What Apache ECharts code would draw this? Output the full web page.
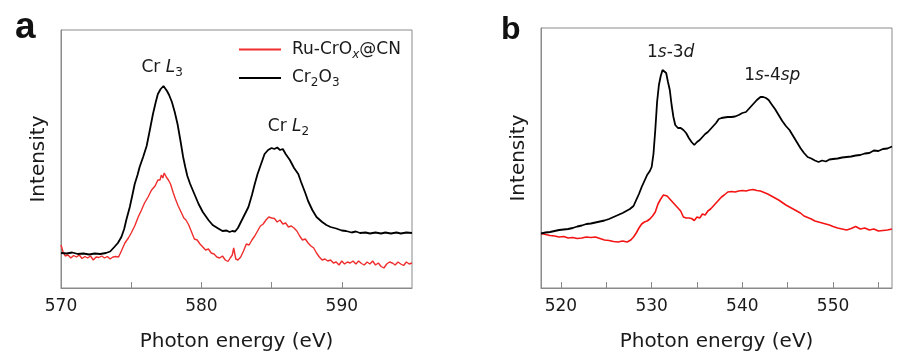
<!DOCTYPE html>
<html>
<head>
<meta charset="utf-8">
<script src="https://cdn.jsdelivr.net/npm/echarts@6/dist/echarts.min.js"></script>
<style>
html,body{margin:0;padding:0;background:#fff;}
#chart{width:912px;height:363px;}
</style>
</head>
<body>
<div id="chart"></div>
<script>
// ---------- Panel a : Cr L-edge ----------
const aEnergyBlack = [570.0,570.4,570.8,571.2,571.6,572.0,572.4,572.8,573.2,573.5,573.8,574.05,574.3,574.5,574.65,574.9,575.1,575.25,575.45,575.6,575.85,576.1,576.3,576.55,576.75,576.9,577.1,577.3,577.4,577.55,577.7,577.9,578.1,578.3,578.5,578.7,578.85,579.0,579.2,579.5,579.8,580.1,580.5,580.8,581.2,581.5,581.8,582.0,582.2,582.4,582.6,582.85,583.1,583.35,583.6,583.8,584.0,584.2,584.5,584.75,585.0,585.2,585.4,585.6,585.8,586.0,586.3,586.6,586.9,587.1,587.4,587.6,587.9,588.2,588.6,588.9,589.2,589.6,590.0,590.3,590.7,591.0,591.3,591.7,592.0,592.4,592.8,593.1,593.5,593.9,594.2,594.6,595.0];
const aBlack = [35,34.5,35.5,34,34.5,33.5,34.5,34,35,36.5,41,45,51,59,68,81,94,104,113,121,131,142,156,174,186,194,199,202,200,197,193,186,176,164,148,131,121,112,104,94,84,76,68,63,59.5,57,57.5,56,57,56.5,60,67,74,81,93,104,114,122,134,138,140,139,140.5,138,139,134,128,120,114,106,95,87,78,71,66,63,61,59.5,57.5,57,55.5,56.5,55,55.5,54.5,55.5,54.5,55.5,54.5,55.5,54.5,55.5,55];
const aEnergyRed = [570.0,570.15,570.3,570.5,570.7,570.9,571.1,571.3,571.5,571.7,571.9,572.1,572.3,572.5,572.7,572.9,573.1,573.3,573.5,573.7,573.9,574.1,574.3,574.55,574.8,575.0,575.25,575.5,575.7,575.95,576.2,576.45,576.7,576.9,577.05,577.15,577.25,577.35,577.5,577.65,577.8,578.0,578.15,578.35,578.55,578.75,578.9,579.1,579.3,579.5,579.7,579.9,580.1,580.3,580.5,580.7,580.9,581.1,581.3,581.5,581.7,581.9,582.05,582.2,582.3,582.45,582.6,582.8,583.0,583.2,583.4,583.6,583.8,584.0,584.2,584.4,584.6,584.8,585.0,585.2,585.4,585.6,585.8,586.0,586.2,586.4,586.6,586.8,587.0,587.2,587.4,587.6,587.8,588.0,588.2,588.4,588.6,588.8,589.0,589.2,589.4,589.6,589.8,590.0,590.2,590.4,590.6,590.8,591.0,591.2,591.4,591.6,591.8,592.0,592.2,592.4,592.6,592.8,593.0,593.2,593.4,593.6,593.8,594.0,594.2,594.4,594.6,594.8,595.0];
const aRed = [43,36,32,33,30,32.5,31,33,29.5,31.5,30,32,28,31,30.5,32,30,31.5,29,31,31.5,31,37,45,50,55,62,71,77,85,91,98,102,108,108,113,110,115,111,108,104,95,89,82,76,70,68,63,56,49,48,44,41,38,39,35,34,31,30,32,28,26.5,30,33,40,29,28,31,37,44,43,48,52,57,62,64,68,71,70,69.5,66,68,64,65,61,62,60,57,52,48,49,45,42,40,35,31,28,29,27,28,25,26,23,27,24,26,25,27,24,27,24.5,23,26,24,27,23,25,21.5,20,24,26,25,23,26,24,22.5,26,24,25];
const aTicks = [570,575,580,585,590];
const aTickLabels = [570,580,590];

// ---------- Panel b : O K-edge ----------
const bEnergyBlack = [517.8,518.3,518.8,519.3,519.8,520.3,520.8,521.3,521.8,522.3,522.8,523.3,523.8,524.3,524.8,525.3,525.8,526.3,526.8,527.2,527.6,528.0,528.3,528.6,528.9,529.2,529.5,529.8,530.0,530.2,530.4,530.6,530.8,531.0,531.2,531.4,531.6,531.8,532.0,532.2,532.4,532.6,532.9,533.2,533.5,533.8,534.1,534.4,534.7,535.0,535.3,535.6,535.9,536.2,536.5,536.8,537.1,537.4,537.7,538.0,538.4,538.8,539.2,539.6,540.0,540.4,540.8,541.2,541.6,542.0,542.3,542.6,542.9,543.2,543.6,544.0,544.4,544.8,545.2,545.6,546.0,546.4,546.8,547.2,547.6,548.0,548.4,548.8,549.2,549.6,550.0,550.5,551.0,551.5,552.0,552.5,553.0,553.5,554.0,554.5,555.0,555.5,556.0,556.5];
const bBlack = [54.5,55.5,56,57,58,58.5,59,60,61.5,62.5,64,64.5,65.5,66.5,67.5,69,71,73,75,77,79,82,88,94,101,107,113,117,121,134,158,186,203,212,218,220,215,206,198,183,171,163,160,160,158,155,150,146,143,146,148,151,154,156,159,162,165,169,170,170.5,171,171,171.5,173,175,176,180,184,188,191,191,190,188,184,179,173,167,162,158,152,146,140,135,131,129.5,127.5,126,127.5,126.5,128.5,129,129.5,130.5,131,131.5,132.5,133,134.5,135,137.5,137,139,139.5,141.5];
const bEnergyRed = [517.8,518.3,518.8,519.3,519.8,520.3,520.8,521.3,521.8,522.3,522.8,523.3,523.8,524.3,524.8,525.3,525.8,526.3,526.8,527.3,527.7,528.0,528.3,528.6,528.9,529.2,529.5,529.8,530.1,530.4,530.7,531.0,531.3,531.5,531.7,532.0,532.3,532.6,532.9,533.2,533.5,533.8,534.1,534.4,534.7,535.0,535.3,535.6,535.9,536.2,536.5,536.8,537.1,537.4,537.7,538.0,538.4,538.8,539.2,539.6,540.0,540.4,540.8,541.2,541.6,542.0,542.4,542.8,543.2,543.6,544.0,544.4,544.8,545.2,545.6,546.0,546.4,546.8,547.2,547.6,548.0,548.4,548.8,549.2,549.6,550.0,550.5,551.0,551.5,552.0,552.5,553.0,553.5,554.0,554.5,555.0,555.5,556.0,556.5];
const bRed = [54.5,53.5,52.5,52,51,51.5,50,50.5,49.5,50,51,50.5,51,49.5,48,47.5,46.5,46,47,46,48,51,55,60,64,66,67,69,72,76,84,89,93,94,92,89,86,83,80,77,71,70,70,69.5,67.5,71,70,74,73,77,79,82,85,88,91,93,96,96.5,96,97,97.5,97,98,98.5,97.5,97,95.5,94,92,90,88,85.5,83,81,79,77,75,72,70.5,69,67,66,65,64,63,61.5,60,59,58,59.5,61.5,59,60,58,59,57,57.5,58,59];
const bTicks = [520,525,530,535,540,545,550,555];
const bTickLabels = [520,530,540,550];

// ---------- labels ----------
const seriesNames = ['Ru-CrOx@CN', 'Cr2O3'];
const seriesLegendRich = ['{n|Ru-CrO}{si|x}{n|@CN}', '{n|Cr}{s|2}{n|O}{s|3}'];
const aPeakLabels = [['{n|Cr }{i|L}{s|3}', 577.2, 220], ['{n|Cr }{i|L}{s|2}', 586.2, 161]];
const bPeakLabels = [['{n|1}{i|s}{n|-3}{i|d}', 532.1, 235], ['{n|1}{i|s}{n|-4}{i|sp}', 543.3, 212]];

const FONT = 'DejaVu Sans';
const TXT = '#1a1a1a';
const FRAME = '#8a8a8a';

const rich = {
  n: {fontFamily: FONT, fontSize: 17, color: TXT, lineHeight: 22},
  i: {fontFamily: FONT, fontSize: 17, color: TXT, lineHeight: 22, fontStyle: 'italic'},
  s: {fontFamily: FONT, fontSize: 12, color: TXT, lineHeight: 10, verticalAlign: 'bottom'},
  si: {fontFamily: FONT, fontSize: 12, color: TXT, lineHeight: 10, verticalAlign: 'bottom', fontStyle: 'italic'}
};

function pairs(xs, ys) { return xs.map((x, i) => [x, ys[i]]); }

function markPts(list) {
  return {
    silent: true,
    symbol: 'rect',
    symbolSize: 1,
    itemStyle: {color: 'rgba(0,0,0,0)'},
    label: {show: true, position: 'inside', formatter: p => p.name, rich: rich},
    data: list.map(l => ({name: l[0], coord: [l[1], l[2]]}))
  };
}

function xAxisDef(gi, min, max, ticks, labels) {
  return {
    type: 'value', gridIndex: gi, min: min, max: max,
    axisLine: {show: true, lineStyle: {color: FRAME, width: 1}},
    axisTick: {show: true, inside: true, length: 6, customValues: ticks, lineStyle: {color: FRAME, width: 1}},
    axisLabel: {show: true, customValues: labels, margin: 10, fontFamily: FONT, fontSize: 17, color: TXT},
    splitLine: {show: false},
    name: 'Photon energy (eV)', nameLocation: 'middle', nameGap: 44,
    nameTextStyle: {fontFamily: FONT, fontSize: 20, color: TXT}
  };
}
function yAxisDef(gi, max) {
  return {
    type: 'value', gridIndex: gi, min: 0, max: max,
    axisLine: {show: true, lineStyle: {color: FRAME, width: 1}},
    axisTick: {show: false}, axisLabel: {show: false}, splitLine: {show: false},
    name: 'Intensity', nameLocation: 'middle', nameGap: 12,
    nameTextStyle: {fontFamily: FONT, fontSize: 20, color: TXT}
  };
}

const chart = echarts.init(document.getElementById('chart'), null, {renderer: 'canvas'});
chart.setOption({
  animation: false,
  backgroundColor: '#ffffff',
  grid: [
    {left: 61, top: 30, width: 351, height: 258, show: true, borderColor: FRAME, borderWidth: 1, backgroundColor: 'transparent'},
    {left: 541, top: 28, width: 351, height: 260, show: true, borderColor: FRAME, borderWidth: 1, backgroundColor: 'transparent'}
  ],
  xAxis: [xAxisDef(0, 570, 595, aTicks, aTickLabels), xAxisDef(1, 517.8, 556.5, bTicks, bTickLabels)],
  yAxis: [yAxisDef(0, 258), yAxisDef(1, 260)],
  legend: {
    data: seriesNames, orient: 'vertical', left: 234, top: 36, padding: 5,
    icon: 'rect', itemWidth: 42, itemHeight: 2, itemGap: 9, selectedMode: false,
    formatter: name => seriesLegendRich[seriesNames.indexOf(name)],
    textStyle: {rich: rich, padding: [0, 0, 0, 6]}
  },
  graphic: [
    {type: 'text', left: 15, top: 9, style: {text: 'a', font: 'bold 37px "Liberation Sans"', fill: '#111'}},
    {type: 'text', left: 501, top: 14, style: {text: 'b', font: 'bold 32px "Liberation Sans"', fill: '#111'}}
  ],
  series: [
    {name: seriesNames[1], type: 'line', xAxisIndex: 0, yAxisIndex: 0, symbol: 'none', showSymbol: false,
     lineStyle: {color: '#000', width: 1.8}, itemStyle: {color: '#000'}, z: 3,
     data: pairs(aEnergyBlack, aBlack), markPoint: markPts(aPeakLabels)},
    {name: seriesNames[0], type: 'line', xAxisIndex: 0, yAxisIndex: 0, symbol: 'none', showSymbol: false,
     lineStyle: {color: '#ef2d2d', width: 1.4}, itemStyle: {color: '#ef2d2d'}, z: 2,
     data: pairs(aEnergyRed, aRed)},
    {name: seriesNames[1], type: 'line', xAxisIndex: 1, yAxisIndex: 1, symbol: 'none', showSymbol: false,
     lineStyle: {color: '#000', width: 1.8}, itemStyle: {color: '#000'}, z: 3,
     data: pairs(bEnergyBlack, bBlack), markPoint: markPts(bPeakLabels)},
    {name: seriesNames[0], type: 'line', xAxisIndex: 1, yAxisIndex: 1, symbol: 'none', showSymbol: false,
     lineStyle: {color: '#f41414', width: 1.6}, itemStyle: {color: '#f41414'}, z: 2,
     data: pairs(bEnergyRed, bRed)}
  ]
});
</script>
</body>
</html>
